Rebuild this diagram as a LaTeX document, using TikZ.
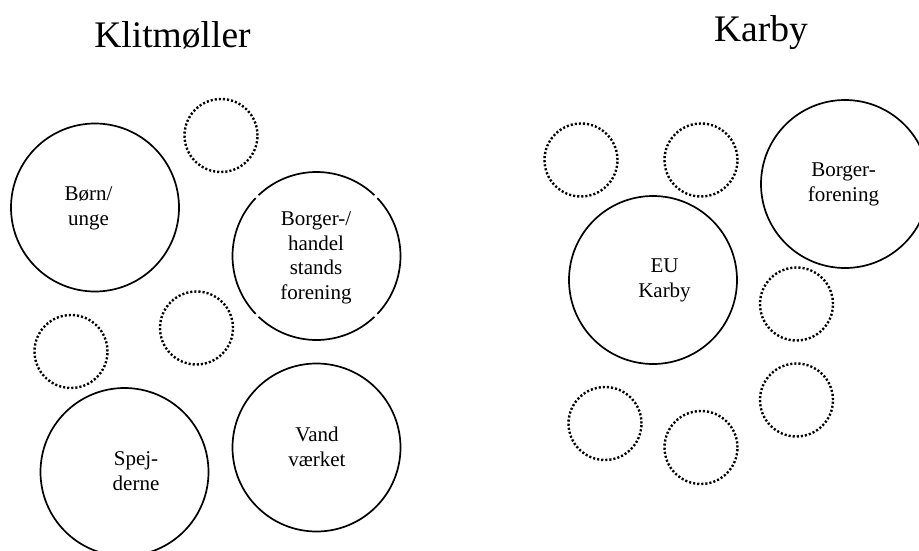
\documentclass[tikz,border=0pt]{standalone}
\usepackage{fontspec}
\setmainfont{Liberation Serif}
\begin{document}
\begin{tikzpicture}[x=1pt,y=-1pt,
  bigc/.style={circle, draw, line width=1.7pt, inner sep=0pt, minimum size=168pt},
  holder/.style={circle, inner sep=0pt, minimum size=168pt},
  ringline/.style={line width=1.7pt},
  dotc/.style={circle, draw, line width=2.4pt, dash pattern=on 2.1pt off 2pt, inner sep=0pt, minimum size=73pt},
  lbl/.style={font=\fontsize{21pt}{24.5pt}\selectfont, align=center, inner sep=0pt, anchor=north},
  ttl/.style={font=\fontsize{37.5pt}{45pt}\selectfont, inner sep=0pt, anchor=base}
]
\useasboundingbox (0,0) rectangle (919,551);
\clip (0,0) rectangle (919,551);

% titles
\node[ttl] (title1) at (172.5,48) {Klitmøller};
\node[ttl] (title2) at (761,42) {Karby};

% Klitmoller
\node[bigc] (born) at (95,207.5) {};
\node[dotc] (d1) at (221,135.5) {};
\node[holder] (borger) at (316.5,256) {};
\draw[ringline]
  (borger.center) ++(46.4:84) arc[start angle=46.4, end angle=133.6, radius=84]
  (borger.center) ++(136.4:84) arc[start angle=136.4, end angle=223.6, radius=84]
  (borger.center) ++(226.4:84) arc[start angle=226.4, end angle=313.6, radius=84]
  (borger.center) ++(316.4:84) arc[start angle=316.4, end angle=403.6, radius=84];
\node[dotc] (d2) at (196.5,328) {};
\node[dotc] (d3) at (71,351.5) {};
\node[bigc] (spejd) at (124.5,472) {};
\node[bigc] (vand) at (316.5,447.5) {};

\node[lbl] (tborn) at (88.5,183.55) {\strut Børn/\\unge};
\node[lbl] (tborger) at (316,208.55) {\strut Borger-/\\handel\\stands\\forening};
\node[lbl] (tspejd) at (136,448.55) {\strut Spej-\\derne};
\node[lbl] (tvand) at (317,424.55) {\strut Vand\\værket};

% Karby
\node[dotc] (d4) at (581,160) {};
\node[dotc] (d5) at (701,160) {};
\node[bigc] (borgerf) at (845,184) {};
\node[bigc] (eu) at (653,280) {};
\node[dotc] (d6) at (796.5,304) {};
\node[dotc] (d7) at (796.5,400) {};
\node[dotc] (d8) at (605,423.5) {};
\node[dotc] (d9) at (701,447.5) {};

\node[lbl] (teu) at (664.5,255.55) {\strut EU\\Karby};
\node[lbl] (tborgerf) at (843.5,159.55) {\strut Borger-\\forening};
\end{tikzpicture}
\end{document}
